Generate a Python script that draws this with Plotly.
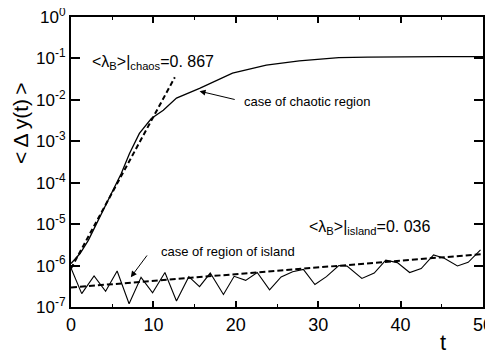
import plotly.graph_objects as go

# chaotic region curve
t_chaos = [0, 1.1, 2.1, 3.1, 4.1, 5.1, 6.1, 7.1, 8.3, 9.75, 11.2, 12.8, 15.6, 19.6, 23.7, 27.7, 32.5, 36, 40, 45, 50]
y_chaos = [1.12e-6, 1.95e-6, 4.07e-6, 1.05e-5, 2.63e-5, 6.6e-5, 1.66e-4, 5.1e-4, 1.55e-3, 3.55e-3,
           5.6e-3, 1.1e-2, 1.9e-2, 4.4e-2, 6.9e-2, 8.7e-2, 0.105, 0.108, 0.11, 0.11, 0.11]

# island region curve
t_island = [0, 1.3, 2.8, 4.2, 5.6, 7.05, 8.5, 9.9, 11.4, 12.8, 14.3, 15.6, 16.9, 18.5, 19.8, 21.2,
            22.6, 24.1, 25.5, 26.9, 28.2, 29.6, 31.0, 32.5, 33.5, 35.3, 36.8, 38.2, 39.6, 41.1,
            42.5, 44.0, 45.3, 46.9, 48.2, 49.7]
y_island = [8.7e-7, 2.1e-7, 5.6e-7, 2.4e-7, 7.4e-7, 1.2e-7, 5.2e-7, 2.2e-7, 6.8e-7, 1.4e-7, 5.4e-7,
            3.1e-7, 6.6e-7, 2.0e-7, 5.5e-7, 4.4e-7, 6.8e-7, 2.6e-7, 5.3e-7, 7.1e-7, 8.1e-7, 3.5e-7,
            5.4e-7, 1.0e-6, 9.7e-7, 4.9e-7, 6.6e-7, 1.35e-6, 1.18e-6, 6.8e-7, 8.5e-7, 1.8e-6,
            1.5e-6, 9.8e-7, 1.2e-6, 2.4e-6]

# fitted exponential lines (end points)
t_fit_chaos = [0, 12.6]
y_fit_chaos = [8.5e-7, 3.5e-2]
t_fit_island = [0, 50]
y_fit_island = [2.95e-7, 1.9e-6]

y_tickvals = [1e-7, 1e-6, 1e-5, 1e-4, 1e-3, 1e-2, 1e-1, 1]
y_ticktext = ["10<sup>-7</sup>", "10<sup>-6</sup>", "10<sup>-5</sup>", "10<sup>-4</sup>",
              "10<sup>-3</sup>", "10<sup>-2</sup>", "10<sup>-1</sup>", "10<sup>0</sup>"]
x_tickvals = [0, 10, 20, 30, 40, 50]

fig = go.Figure()
fig.add_trace(go.Scatter(x=t_chaos, y=y_chaos, mode="lines", line=dict(color="black", width=1.3)))
fig.add_trace(go.Scatter(x=t_island, y=y_island, mode="lines", line=dict(color="black", width=1.1)))
fig.add_trace(go.Scatter(x=t_fit_chaos, y=y_fit_chaos, mode="lines",
                         line=dict(color="black", width=2, dash="5px,3px")))
fig.add_trace(go.Scatter(x=t_fit_island, y=y_fit_island, mode="lines",
                         line=dict(color="black", width=2, dash="6px,3px")))
# empty trace that carries the top / right frame axes
fig.add_trace(go.Scatter(x=[None], y=[None], xaxis="x2", yaxis="y2", mode="lines",
                         hoverinfo="skip", showlegend=False))

tf = "Liberation Sans, Arial, sans-serif"
ann = []
ann.append(dict(x=2.3, y=-1.11, xref="x", yref="y", xanchor="left", yanchor="middle", showarrow=False,
                text="&lt;λ<sub>B</sub>&gt;|<sub>chaos</sub>=0. 867", font=dict(size=16, color="black", family=tf)))
ann.append(dict(x=28.7, y=-5.09, xref="x", yref="y", xanchor="left", yanchor="middle", showarrow=False,
                text="&lt;λ<sub>B</sub>&gt;|<sub>island</sub>=0. 036", font=dict(size=16, color="black", family=tf)))
ann.append(dict(x=20.7, y=-2.05, xref="x", yref="y", xanchor="left", yanchor="middle", showarrow=False,
                text="case of chaotic region", font=dict(size=13, color="black", family=tf)))
ann.append(dict(x=10.65, y=-5.65, xref="x", yref="y", xanchor="left", yanchor="middle", showarrow=False,
                text="case of region of island", font=dict(size=13, color="black", family=tf)))
# arrows
ann.append(dict(x=15.6, y=-1.79, ax=20.05, ay=-2.0, xref="x", yref="y", axref="x", ayref="y",
                text="", showarrow=True, arrowhead=2, arrowsize=1.2, arrowwidth=1, arrowcolor="black"))
ann.append(dict(x=7.26, y=-6.28, ax=9.36, ay=-5.72, xref="x", yref="y", axref="x", ayref="y",
                text="", showarrow=True, arrowhead=2, arrowsize=1.2, arrowwidth=1, arrowcolor="black"))
# axis titles
ann.append(dict(x=-0.124, y=0.634, xref="paper", yref="paper", xanchor="center", yanchor="middle",
                showarrow=False, textangle=-90,
                text="&lt;\u2009Δ\u2009y(t)\u2009&gt;", font=dict(size=21, color="black", family=tf)))
ann.append(dict(x=0.903, y=-0.121, xref="paper", yref="paper", xanchor="center", yanchor="middle",
                showarrow=False, text="t", font=dict(size=22, color="black", family=tf)))

common_x = dict(range=[0, 50], tickvals=x_tickvals, ticks="inside", ticklen=6, tickwidth=1.5,
                tickcolor="black", showline=True, linecolor="black", linewidth=2,
                showgrid=False, zeroline=False, automargin=False,
                minor=dict(dtick=5, ticks="inside", ticklen=3, tickwidth=1, tickcolor="black", showgrid=False))
common_y = dict(type="log", range=[-7, 0], tickvals=y_tickvals, ticks="inside",
                ticklen=9, tickwidth=1.5, tickcolor="black", showline=True, linecolor="black", linewidth=2,
                showgrid=False, zeroline=False, automargin=False)

# the page body has an 8px default margin, so the figure is shrunk by 8px to fit the window
fig.update_layout(
    width=485, height=345,
    margin=dict(l=63, r=10, t=9, b=46, autoexpand=False),
    paper_bgcolor="white", plot_bgcolor="white",
    showlegend=False,
    annotations=ann,
    xaxis=dict(**common_x, side="bottom", anchor="y", ticklabeloverflow="allow",
               tickfont=dict(size=18, color="black", family=tf)),
    yaxis=dict(**common_y, side="left", anchor="x", ticktext=y_ticktext, ticklabeloverflow="allow",
               tickfont=dict(size=17, color="black", family=tf)),
    xaxis2=dict(**common_x, side="top", overlaying="x", anchor="y2", showticklabels=False),
    yaxis2=dict(**common_y, side="right", overlaying="y", anchor="x2", showticklabels=False),
)
fig.write_html("out.html")
